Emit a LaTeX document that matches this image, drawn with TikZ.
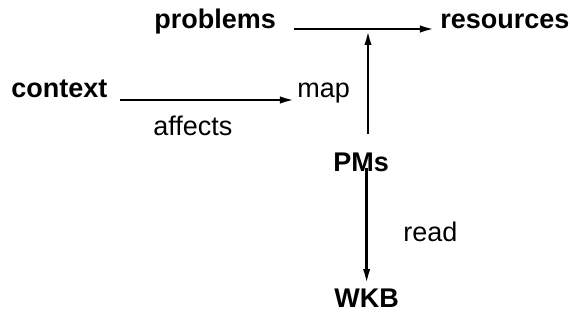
\documentclass[tikz,border=0pt]{standalone}
\usepackage{fontspec}
\setmainfont{Liberation Sans}
\usetikzlibrary{arrows.meta}

\begin{document}
\begin{tikzpicture}[x=0.5pt,y=-0.5pt,>={Latex[length=8pt,width=3.6pt]},line width=1.4pt,
  every node/.style={inner sep=1.5pt,anchor=base west,font=\fontsize{13.5}{16}\selectfont},
  term/.style={font=\fontsize{13.5}{16}\selectfont\bfseries}]
\useasboundingbox (0,0) rectangle (570,320);
\node[term] (problems) at (150,29) {problems};
\node[term] (resources) at (436,29) {resources};
\node[term] (context) at (7,98) {context};
\node (map) at (293,98) {map};
\node (affects) at (149,136) {affects};
\node[term] (pms) at (329,172) {PMs};
\node (read) at (399,242) {read};
\node[term] (wkb) at (330,308) {WKB};
\coordinate (junction) at (368,29);
\draw[->] ([xshift=7pt]problems.base east) -- (resources.base west);
\draw[->] ([xshift=4pt,yshift=-1pt]context.base east) -- ([xshift=1.5pt,yshift=-1pt]map.base west);
\draw[->] ([yshift=7.5pt]junction |- pms.north) -- (junction);
\draw[->] ([yshift=2pt]wkb |- pms.base) -- (wkb.north);
\end{tikzpicture}
\end{document}
